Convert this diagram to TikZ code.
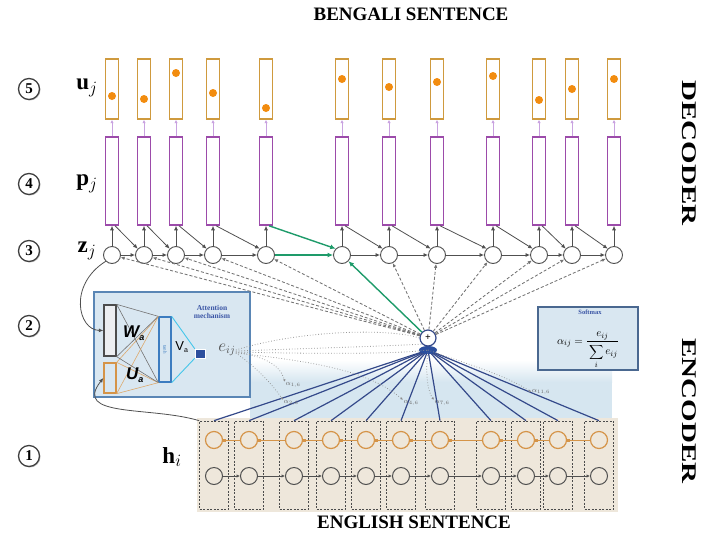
\documentclass[tikz,border=0pt]{standalone}
\usepackage{fontspec}
\usepackage{graphicx}
\setmainfont{Liberation Serif}
\setsansfont{Liberation Sans}
\usetikzlibrary{arrows.meta,shadows,calc}
\definecolor{ubox}{HTML}{CF9A3E}
\definecolor{udot}{HTML}{F28C0F}
\definecolor{pbox}{HTML}{9C4BAA}
\definecolor{parrow}{HTML}{C9A2E0}
\definecolor{zgray}{HTML}{505050}
\definecolor{grn}{HTML}{1E9B6A}
\definecolor{attfill}{HTML}{D9E7F1}
\definecolor{attdraw}{HTML}{5A86B5}
\definecolor{tanhc}{HTML}{3C7CC0}
\definecolor{cyanl}{HTML}{45C6EA}
\definecolor{eboxc}{HTML}{2C4F9E}
\definecolor{orng}{HTML}{D59448}
\definecolor{blueline}{HTML}{34498A}
\definecolor{band}{HTML}{D6E6F0}
\definecolor{beige}{HTML}{EEE7DB}
\definecolor{txtblue}{HTML}{3A55A5}
\definecolor{softdraw}{HTML}{4A6890}
\begin{document}
\begin{tikzpicture}[x=1pt,y=-1pt,
  ubx/.style={draw=ubox, line width=1.4pt, fill=white, minimum width=13pt, minimum height=60pt, inner sep=0pt},
  pbx/.style={draw=pbox, line width=1.5pt, fill=white, minimum width=13pt, minimum height=88pt, inner sep=0pt},
  zc/.style={circle, draw=zgray, line width=0.9pt, fill=white, minimum size=17pt, inner sep=0pt},
  garr/.style={-{Latex[length=4.5pt,width=4pt]}, draw=zgray, line width=0.8pt},
  parr/.style={-{Latex[length=3.5pt,width=3.5pt]}, draw=parrow, line width=1pt},
  grarr/.style={-{Latex[length=5.5pt,width=5pt]}, draw=grn, line width=1.4pt},
  darr/.style={-{Latex[length=4pt,width=3.5pt]}, draw=zgray!80, dash pattern=on 3pt off 2pt, line width=0.85pt},
  encbox/.style={draw=black!70, dash pattern=on 2pt off 1.5pt, line width=0.7pt, minimum width=29pt, minimum height=88pt, inner sep=0pt},
  oc/.style={circle, draw=orng, line width=1.2pt, fill=beige, minimum size=17pt, inner sep=0pt},
  gc/.style={circle, draw=zgray, line width=1pt, fill=beige, minimum size=17pt, inner sep=0pt},
  oarr/.style={-{Square[length=3pt,width=3pt]}, draw=orng, line width=0.9pt, color=orng},
  hgarr/.style={-{Latex[length=3.5pt,width=3.5pt]}, draw=zgray, line width=0.8pt},
  bl/.style={draw=blueline, line width=1.2pt},
  dotl/.style={draw=black!40, dotted, line width=0.8pt},
  dotarr/.style={-{Latex[length=2.5pt,width=2.5pt]}, draw=black!45, dotted, line width=0.7pt},
  numc/.style={circle, draw=black!75, line width=1.3pt, fill=white, minimum size=21pt, inner sep=0pt, font=\bfseries\fontsize{15}{15}\selectfont, drop shadow={shadow xshift=1pt, shadow yshift=-1pt, fill=black!45}},
  lbl/.style={font=\fontsize{23}{26}\selectfont, inner sep=0pt},
  albl/.style={font=\fontsize{7}{7}\selectfont, text=black!60, inner sep=0.5pt},
  title/.style={font=\bfseries\fontsize{19}{22}\selectfont, inner sep=0pt},
  side/.style={font=\bfseries\fontsize{29}{30}\selectfont, rotate=-90, inner sep=0pt}
]
\useasboundingbox (0,0) rectangle (703,533);

% backgrounds
\shade[top color=white, bottom color=band] (250,360) rectangle (612,382);
\fill[band] (250,381.5) rectangle (612,419);
\fill[beige] (197,418) rectangle (618,512);

% titles
\node[title] (tt) at (411,14) {BENGALI SENTENCE};
\node[title] (tb) at (414,522) {ENGLISH SENTENCE};
\node[side] (dec) at (689,153) {\scalebox{1}[0.72]{DECODER}};
\node[side] (enc) at (689,411) {\scalebox{1}[0.72]{ENCODER}};

% left labels
\node[numc] (n5) at (29,89) {5};
\node[numc] (n4) at (29,184) {4};
\node[numc] (n3) at (29,251) {3};
\node[numc] (n2) at (29,326) {2};
\node[numc] (n1) at (29,456) {1};
\node[lbl] (lu) at (87,88) {$\mathbf{u}_j$};
\node[lbl] (lp) at (87,184) {$\mathbf{p}_j$};
\node[lbl] (lz) at (87,251) {$\mathbf{z}_j$};
\node[lbl] (lh) at (172,457) {$\mathbf{h}_i$};

% attention box
\node[draw=attdraw, line width=1.2pt, fill=attfill, minimum width=156pt, minimum height=105pt, inner sep=0pt] (att) at (172,344.5) {};
\node[draw=black!70, line width=1.3pt, fill=attfill!70!gray!30, minimum width=12pt, minimum height=51pt, inner sep=0pt] (wa) at (110,330.5) {};
\node[draw=orng, line width=1.3pt, fill=attfill, minimum width=12pt, minimum height=30pt, inner sep=0pt] (ua) at (110,378) {};
\node[draw=tanhc, line width=1.3pt, fill=attfill, minimum width=12pt, minimum height=65pt, inner sep=0pt] (tanh) at (165,349.5) {};
\node[rotate=-90, font=\fontsize{5}{5}\selectfont, text=tanhc, inner sep=0pt] (tanhtxt) at (165,349.5) {tanh};
\node[draw=white, line width=0.5pt, fill=eboxc, minimum width=10pt, minimum height=9pt, inner sep=0pt] (eb) at (200,353.5) {};
\foreach \a in {north east, south east} {
  \foreach \b in {north west, south west} {
    \draw[black!55, line width=0.6pt] (wa.\a) -- (tanh.\b);
    \draw[orng!80, line width=0.6pt] (ua.\a) -- (tanh.\b);
  }
}
\draw[cyanl, line width=0.9pt] (tanh.north east) -- (eb.north west);
\draw[cyanl, line width=0.9pt] (tanh.south east) -- (eb.south west);
\node[font=\sffamily\bfseries\itshape\fontsize{17}{17}\selectfont, inner sep=0pt] (wtxt) at (134,333) {W\textsubscript{\fontsize{9}{9}\selectfont a}};
\node[font=\sffamily\bfseries\itshape\fontsize{17}{17}\selectfont, inner sep=0pt] (utxt) at (135,375) {U\textsubscript{\fontsize{9}{9}\selectfont a}};
\node[font=\sffamily\fontsize{13}{13}\selectfont, inner sep=0pt] (vtxt) at (182,347) {V\textsubscript{\fontsize{7}{7}\selectfont a}};
\node[font=\bfseries\fontsize{7.5}{8.5}\selectfont, text=txtblue, align=center, inner sep=0pt] (atttxt) at (212,312) {Attention\\mechanism};
\node[font=\fontsize{16}{16}\selectfont, text=black!70, inner sep=0pt] (eij) at (227,350) {$e_{ij}$};

% softmax box
\node[draw=softdraw, line width=1.3pt, fill=attfill, minimum width=100pt, minimum height=63pt, inner sep=0pt] (soft) at (588,338.5) {};
\node[font=\bfseries\fontsize{6.5}{6.5}\selectfont, text=txtblue, inner sep=0pt] (softt) at (590,312) {Softmax};
\node[font=\fontsize{11}{11}\selectfont, inner sep=0pt] (softf) at (588,350) {$\alpha_{ij}=\displaystyle\frac{e_{ij}}{\rule{0pt}{12pt}\displaystyle\sum_i e_{ij}}$};

% encoder
\foreach \x [count=\i] in {214,249,294,331,366,401,440,491,526,558,599} {
  \node[encbox] (e\i) at (\x,465) {};
  \node[oc] (ho\i) at (\x,440) {};
  \node[gc] (hg\i) at (\x,476) {};
}
\foreach \i in {1,...,10} {
  \pgfmathtruncatemacro\j{\i+1}
  \draw[oarr] (ho\j) -- (ho\i);
  \draw[hgarr] (hg\i) -- (hg\j);
}

% attention + node
\coordinate (cap) at (428,350);
\foreach \i in {1,...,11} { \draw[bl] (cap) -- (e\i.north); }
\fill[eboxc] (428,350) ellipse [x radius=9pt, y radius=4pt];
\node[circle, draw=blueline, line width=1.2pt, fill=white, minimum size=16pt, inner sep=0pt, font=\bfseries\fontsize{10}{10}\selectfont] (plus) at (428,338) {+};

% alpha labels
\node[albl] (a16) at (293,385) {$\alpha_{1,6}$};
\node[albl] (a26) at (291,403) {$\alpha_{2,6}$};
\node[albl] (a46) at (411,403) {$\alpha_{4,6}$};
\node[albl] (a76) at (442,403) {$\alpha_{7,6}$};
\node[albl] (a116) at (541,392) {$\alpha_{11,6}$};

% e_ij links
\draw[dotl] (eij.east) .. controls (300,330) and (390,328) .. (plus.west);
\draw[dotl] ([yshift=-1pt]eij.east) .. controls (320,348) and (390,346) .. (plus.south west);
\draw[dotl] ([yshift=-2pt]eij.east) .. controls (320,354) and (400,354) .. (cap);
\draw[dotarr] ([yshift=-2pt]eij.east) .. controls (262,356) and (280,364) .. (a16.north west);
\draw[dotarr] ([yshift=-3pt]eij.east) .. controls (255,366) and (272,384) .. (a26.north west);
\draw[dotarr] ([yshift=-3pt]eij.east) .. controls (320,362) and (370,372) .. (a46.north west);
\draw[dotarr] (cap) .. controls (425,375) and (428,392) .. (a76.north west);
\draw[dotarr] (cap) .. controls (470,365) and (505,375) .. (a116.west);

% feedback curves
\draw[garr] (e1.north west) .. controls (150,406) and (72,418) .. (ua.west);

% decoder
\foreach \x/\d [count=\i] in {112/96,144/99,176/73,213/93,266/108,342/79,389/87,437/82,493/76,539/100,572/89,614/79} {
  \node[ubx] (u\i) at (\x,89) {};
  \fill[udot] (\x,\d) circle[radius=4pt];
  \node[pbx] (p\i) at (\x,181) {};
  \node[zc] (z\i) at (\x,255) {};
}
\draw[garr] (z1.south west) .. controls (68,285) and (78,330) .. (wa.west);
\foreach \i in {1,...,12} {
  \draw[parr] (p\i.north) -- (u\i.south);
  \draw[garr] (z\i) -- (p\i.south);
}
\foreach \i in {1,2,3,4,6,7,8,9,10,11} {
  \pgfmathtruncatemacro\j{\i+1}
  \draw[garr] (z\i) -- (z\j);
  \draw[garr] ([xshift=3pt]p\i.south) -- (z\j.north west);
}
\draw[grarr] (z5) -- (z6);
\draw[grarr] ([xshift=3pt]p5.south) -- (z6.north west);
\foreach \i in {1,2,3,4,5,7,8,9,10,11,12} { \draw[darr] (plus) -- (z\i); }
\draw[grarr] (plus) -- (z6);
\end{tikzpicture}
\end{document}
